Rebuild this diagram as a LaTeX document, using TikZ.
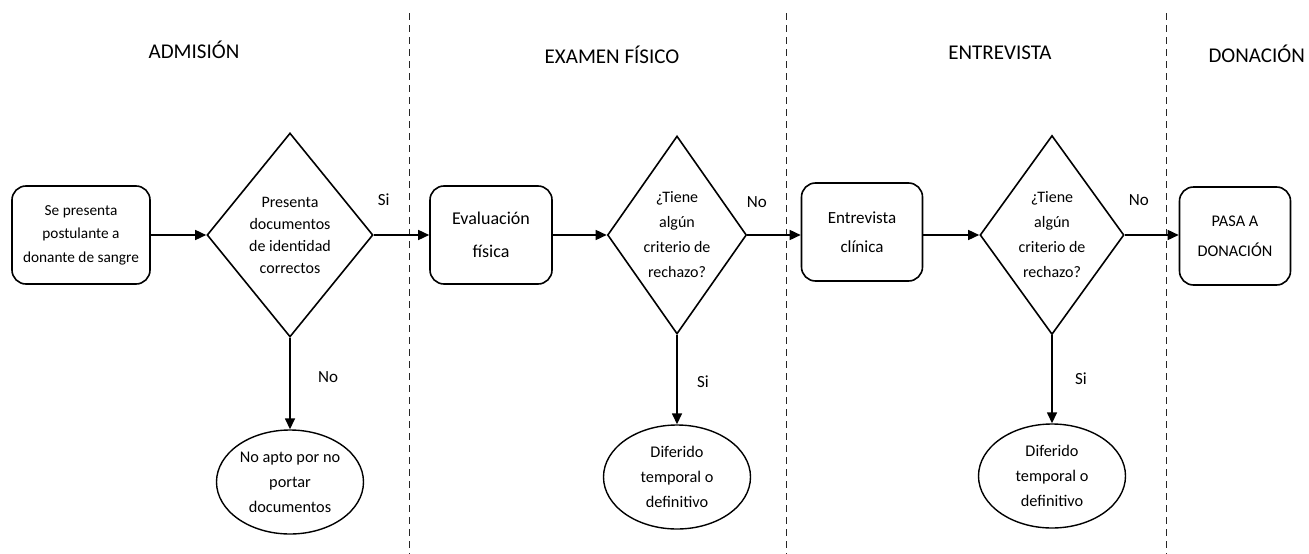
\documentclass[tikz,border=0pt]{standalone}
\usepackage{fontspec}
\setmainfont{Carlito}
\usetikzlibrary{
    shapes.geometric,
    arrows.meta,
    positioning
}

\begin{document}
\begin{tikzpicture}[
            x=1pt, y=-1pt,
            font=\fontsize{16}{23}\selectfont,
            >=Latex,
            lane/.style={draw, dash pattern=on 7pt off 5pt, line width=0.9pt, black!85},
            title/.style={font=\fontsize{21}{24}\selectfont, align=center},
            proc/.style={draw, rounded corners=14pt, line width=1.6pt, align=center, inner sep=2pt,
                         minimum height=98pt},
            decision/.style={draw, diamond, line width=1.6pt, align=center, inner sep=0pt},
            outcome/.style={draw, ellipse, line width=1.4pt, align=center, inner sep=0pt,
                            minimum width=147pt, minimum height=104pt,
                            font=\fontsize{16.3}{25}\selectfont},
            lbl/.style={font=\fontsize{17}{20}\selectfont},
            arr/.style={-{Triangle[length=11pt, width=10pt]}, line width=1.5pt}
        ]
            \useasboundingbox (0,0) rectangle (1309,554);

            % separadores de etapas
            \draw[lane] (409,13) -- (409,554);
            \draw[lane] (786,13) -- (786,554);
            \draw[lane] (1166,13) -- (1166,554);

            \node[title] (tadm) at (194,50) {ADMISIÓN};
            \node[title] (texa) at (612,55) {EXAMEN FÍSICO};
            \node[title] (tent) at (1000,53) {ENTREVISTA};
            \node[title, anchor=west] (tdon) at (1205,54) {DONACIÓN};

            \node[proc, minimum width=138pt, font=\fontsize{15.3}{23.5}\selectfont] (inicio) at (81,235)
                {Se presenta\\ postulante a\\ donante de sangre};

            \node[decision, minimum width=166pt, minimum height=204pt, aspect=0.81,
                  font=\fontsize{16}{22}\selectfont] (docs) at (290,235)
                {Presenta\\ documentos\\ de identidad\\ correctos};

            \node[outcome] (noapto) at (290,482)
                {No apto por no\\ portar\\ documentos};

            \node[proc, minimum width=122pt, font=\fontsize{18}{33}\selectfont] (evalua) at (491,235)
                {Evaluación\\ física};

            \node[decision, minimum width=139pt, minimum height=198pt, aspect=0.7,
                  font=\fontsize{16}{25}\selectfont] (crit1) at (677,235)
                {¿Tiene\\ algún\\ criterio de\\ rechazo?};

            \node[outcome] (dif1) at (677,477)
                {Diferido\\ temporal o\\ definitivo};

            \node[proc, minimum width=121pt, font=\fontsize{17}{29}\selectfont] (entrev) at (862,232)
                {Entrevista\\ clínica};

            \node[decision, minimum width=144pt, minimum height=199pt, aspect=0.72,
                  font=\fontsize{16}{25}\selectfont] (crit2) at (1052,235)
                {¿Tiene\\ algún\\ criterio de\\ rechazo?};

            \node[outcome] (dif2) at (1052,476)
                {Diferido\\ temporal o\\ definitivo};

            \node[proc, minimum width=111pt, font=\fontsize{16.3}{30}\selectfont] (dona) at (1235,236)
                {PASA A\\ DONACIÓN};

            \draw[arr] (inicio) -- (docs);
            \draw[arr] (docs) -- node[lbl, pos=0.18, yshift=35pt]{Si} (evalua);
            \draw[arr] (docs) -- node[lbl, pos=0.43, xshift=38pt]{No} (noapto);
            \draw[arr] (evalua) -- (crit1);
            \draw[arr] (crit1) -- node[lbl, pos=0.18, yshift=33pt]{No} (entrev.west |- crit1);
            \draw[arr] (crit1) -- node[lbl, pos=0.52, xshift=26pt]{Si} (dif1);
            \draw[arr] (entrev.east |- crit2) -- (crit2);
            \draw[arr] (crit2) -- node[lbl, pos=0.26, yshift=35pt]{No} (dona.west |- crit2);
            \draw[arr] (crit2) -- node[lbl, pos=0.49, xshift=29pt]{Si} (dif2);
        \end{tikzpicture}
\end{document}
